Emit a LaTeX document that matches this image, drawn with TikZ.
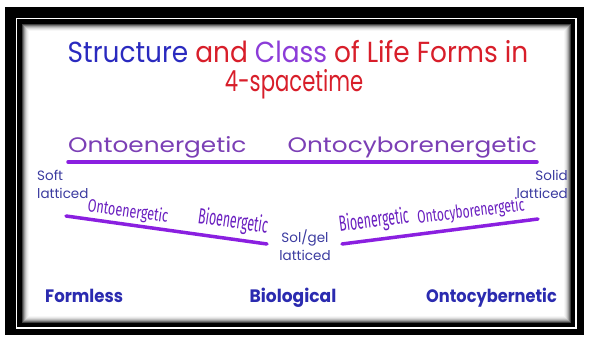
\documentclass[tikz,border=0pt]{standalone}
\usepackage{fontspec}
\setmainfont{Poppins}
\newfontfamily\condfont{Fira Sans}
\definecolor{tblue}{HTML}{2A2ABF}
\definecolor{tred}{HTML}{D81E2A}
\definecolor{tpurple}{HTML}{8C3CD8}
\definecolor{lpurple}{HTML}{7B3FB5}
\definecolor{linepurple}{HTML}{8A1FE0}
\definecolor{slpurple}{HTML}{6A1FC0}
\definecolor{lblue}{HTML}{3B3BA0}
\definecolor{bblue}{HTML}{2B2BB0}
\tikzset{
  titletext/.style={font=\fontsize{29}{32}\selectfont, inner sep=0pt},
  toplabel/.style={font=\fontsize{21}{24}\selectfont, text=lpurple, inner sep=0pt},
  smalllab/.style={font=\fontsize{13.5}{15}\selectfont, text=lblue, inner sep=0pt},
  bottomlab/.style={font=\fontsize{18}{20}\selectfont\bfseries, text=bblue, inner sep=0pt},
  slant/.style={font=\condfont\fontsize{18}{20}\selectfont, text=slpurple, inner sep=0pt},
  bigslant/.style={font=\condfont\fontsize{22}{24}\selectfont, text=slpurple, inner sep=0pt},
  purpleline/.style={draw=linepurple, line width=3.5pt, line cap=round}
}
\begin{document}
\begin{tikzpicture}[x=1pt,y=-1pt]
\useasboundingbox (0,0) rectangle (590,337);
\fill[white] (0,0) rectangle (590,337);
% frame
\fill[black] (5,7) rectangle (584,335);
\draw[white, line width=1.2pt] (16.5,18.5) rectangle (576,328);
\foreach \i/\g in {0/100,1/100,2/100,3/75,4/55,5/38,6/25,7/15,8/8,9/3}{
  \fill[black!\g] (19+\i,21+\i) rectangle (574-\i,326-\i);
}
\fill[white] (29,31) rectangle (564,316);
% title
\node[titletext, anchor=base] (t1) at (298,63) {\scalebox{0.91}[1]{\textcolor{tblue}{Structure} \textcolor{tred}{and} \textcolor{tpurple}{Class} \textcolor{tred}{of Life Forms in}}};
\node[titletext, anchor=base, text=tred] (t2) at (294,92) {\scalebox{0.73}[1]{4-spacetime}};
% top labels
\node[toplabel, anchor=base west] (onto) at (68,153) {\scalebox{1.18}[1]{Ontoenergetic}};
\node[toplabel, anchor=base east] (cyb) at (537,153) {\scalebox{1.18}[1]{Ontocyborenergetic}};
\coordinate (tl) at (68,162);
\coordinate (tr) at (537,162);
\draw[purpleline] (tl) -- (tr);
% side labels
\node[smalllab, anchor=base west] (soft) at (37,180) {Soft};
\node[smalllab, anchor=base west] (softl) at (37,198) {latticed};
\node[smalllab, anchor=base east] (solid) at (568,180) {Solid};
\node[smalllab, anchor=base east] (solidl) at (568,198) {latticed};
\node[smalllab] (sol) at (305,238) {Sol/gel};
\node[smalllab] (soll) at (305,255) {latticed};
% slanted lines
\coordinate (ll) at (66,216);
\coordinate (lr) at (267,244);
\coordinate (rl) at (342,244);
\coordinate (rr) at (538,219);
\draw[purpleline] (ll) -- (lr);
\draw[purpleline] (rl) -- (rr);
\node[slant, rotate=-8] (s1) at (128,212) {\scalebox{0.7}[1]{Ontoenergetic}};
\node[bigslant, rotate=-8] (s2) at (233,222) {\scalebox{0.56}[1]{Bioenergetic}};
\node[bigslant, rotate=7] (s3) at (374,221) {\scalebox{0.56}[1]{Bioenergetic}};
\node[slant, rotate=7] (s4) at (471,212) {\scalebox{0.67}[1]{Ontocyborenergetic}};
% bottom labels
\node[bottomlab, anchor=base west] (f) at (45,302) {\scalebox{0.92}[1]{Formless}};
\node[bottomlab, anchor=base] (b) at (293,302) {\scalebox{0.95}[1]{Biological}};
\node[bottomlab, anchor=base east] (o) at (557,302) {\scalebox{0.9}[1]{Ontocybernetic}};
\end{tikzpicture}
\end{document}
